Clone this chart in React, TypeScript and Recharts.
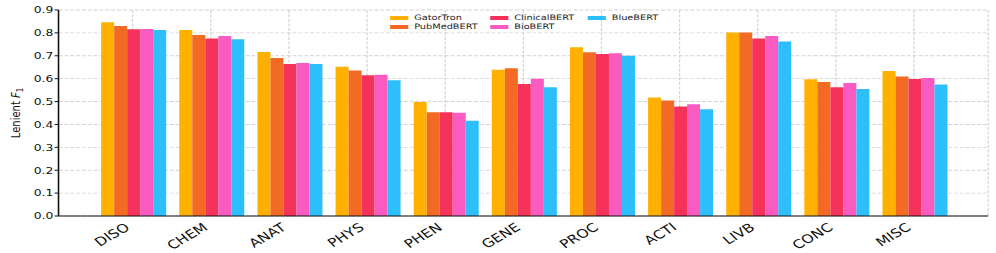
import { Bar, BarChart, CartesianGrid, Legend, XAxis, YAxis } from "recharts";

// Entity categories and lenient F1 per model.
const CATEGORIES = ["DISO", "CHEM", "ANAT", "PHYS", "PHEN", "GENE", "PROC", "ACTI", "LIVB", "CONC", "MISC"];
const GATORTRON = [0.847, 0.813, 0.716, 0.652, 0.498, 0.639, 0.737, 0.518, 0.802, 0.597, 0.633];
const PUBMEDBERT = [0.83, 0.791, 0.69, 0.636, 0.453, 0.646, 0.715, 0.505, 0.802, 0.585, 0.61];
const CLINICALBERT = [0.816, 0.776, 0.664, 0.615, 0.453, 0.577, 0.708, 0.478, 0.775, 0.562, 0.598];
const BIOBERT = [0.817, 0.786, 0.668, 0.617, 0.451, 0.6, 0.711, 0.488, 0.786, 0.581, 0.603];
const BLUEBERT = [0.813, 0.772, 0.664, 0.593, 0.416, 0.563, 0.7, 0.466, 0.762, 0.555, 0.574];
const Y_TICKS = [0, 0.1, 0.2, 0.3, 0.4, 0.5, 0.6, 0.7, 0.8, 0.9];

const SERIES = [
  { key: "GatorTron", values: GATORTRON, color: "#FFB000" },
  { key: "PubMedBERT", values: PUBMEDBERT, color: "#F26A24" },
  { key: "ClinicalBERT", values: CLINICALBERT, color: "#F5325A" },
  { key: "BioBERT", values: BIOBERT, color: "#F95BC0" },
  { key: "BlueBERT", values: BLUEBERT, color: "#2DBEFC" },
];

const data = CATEGORIES.map((name, i) => {
  const row: Record<string, string | number> = { name };
  SERIES.forEach((s) => (row[s.key] = s.values[i]));
  return row;
});

// the picture is wider than tall -> draw narrow, stretch horizontally
const OUT_W = 996;
const CHART_W = 766;
const STRETCH = OUT_W / CHART_W;
const FONT = "'DejaVu Sans', sans-serif";
// rotate so that after the stretch the labels sit at 30 degrees
const LABEL_ANGLE = (Math.atan(STRETCH * Math.tan(Math.PI / 6)) * 180) / Math.PI;

const XTick = ({ x, y, payload }: any) => (
  <g transform={`translate(${x - 1.5},${y + 5})`}>
    <text transform={`rotate(${-LABEL_ANGLE})`} textAnchor="end" fontSize={12} fontFamily={FONT} fill="#111">
      {payload.value}
    </text>
  </g>
);

const YLabel = ({ viewBox }: any) => {
  const cy = viewBox.y + viewBox.height / 2;
  return (
    <text
      transform={`translate(15, ${cy}) rotate(-90)`}
      textAnchor="middle"
      fontSize={10}
      fontFamily={FONT}
      fill="#111"
    >
      Lenient <tspan fontStyle="italic">F</tspan>
      <tspan dy={2.5} fontSize={7}>1</tspan>
    </text>
  );
};

// legend keeps the series order (column-major, 3 columns x 2 rows)
const renderLegend = () => (
  <div
    style={{
      display: "grid",
      gridTemplateColumns: "77px 75px 60px",
      gridTemplateRows: "9px 9px",
      gridAutoFlow: "column",
      fontFamily: FONT,
      fontSize: 7.5,
      color: "#222",
    }}
  >
    {SERIES.map((s) => (
      <div key={s.key} style={{ display: "flex", alignItems: "center", whiteSpace: "nowrap" }}>
        <span style={{ width: 14, height: 4, background: s.color, marginRight: 4.5, flex: "none" }} />
        {s.key}
      </div>
    ))}
  </div>
);

export default function App() {
  return (
    <div style={{ position: "absolute", top: 0, left: 0, width: OUT_W, height: 253, overflow: "hidden", background: "#fff" }}>
      <div style={{ width: CHART_W, height: 253, transform: `scale(${STRETCH}, 1)`, transformOrigin: "0 0" }}>
        <BarChart
          width={CHART_W}
          height={253}
          data={data}
          margin={{ top: 10, right: 6, left: 0, bottom: 0 }}
          barCategoryGap={5.8}
          barGap={0}
        >
          <CartesianGrid stroke="#d2d2d2" strokeDasharray="3 1.5" strokeWidth={0.9} />
          <XAxis
            dataKey="name"
            padding={{ left: 27, right: 27 }}
            height={37}
            interval={0}
            tickLine={false}
            axisLine={{ stroke: "#111", strokeWidth: 1.2 }}
            tick={<XTick />}
          />
          <YAxis
            domain={[0, 0.9]}
            ticks={Y_TICKS}
            width={45}
            interval={0}
            tickSize={3}
            tickMargin={1}
            tickFormatter={(v: number) => v.toFixed(1)}
            axisLine={{ stroke: "#111", strokeWidth: 1.2 }}
            tickLine={{ stroke: "#111" }}
            tick={{ fontSize: 9.5, fontFamily: FONT, fill: "#111" }}
            label={<YLabel />}
          />
          <Legend
            layout="vertical"
            align="center"
            verticalAlign="middle"
            content={renderLegend}
            wrapperStyle={{ top: 13, left: 300, width: 220 }}
          />
          {SERIES.map((s) => (
            <Bar key={s.key} dataKey={s.key} name={s.key} fill={s.color} isAnimationActive={false} />
          ))}
        </BarChart>
      </div>
    </div>
  );
}
